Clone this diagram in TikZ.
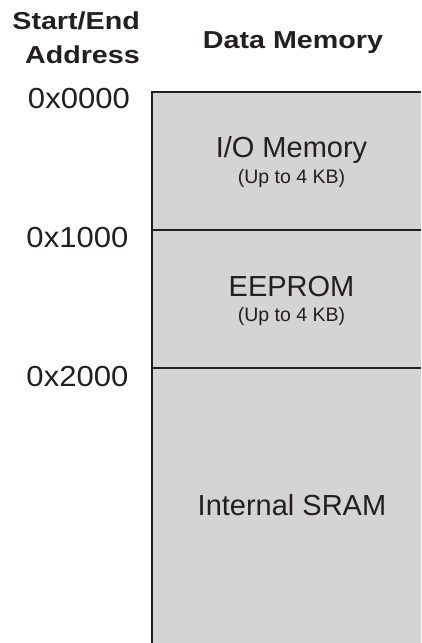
\documentclass[tikz,border=0pt]{standalone}
\usepackage{fontspec}
\setmainfont{Liberation Sans}
\definecolor{memfill}{RGB}{211,212,211}
\definecolor{ink}{RGB}{35,31,32}
\newcommand{\widebold}[1]{\scalebox{1.17}[1]{#1}}
\newcommand{\wideaddr}[1]{\scalebox{1.07}[1]{#1}}
\begin{document}
\begin{tikzpicture}[x=1pt,y=-1pt,
  big/.style={font=\fontsize{29}{29}\selectfont, text=ink, inner sep=0pt},
  small/.style={font=\fontsize{19.5}{19.5}\selectfont, text=ink, inner sep=0pt},
  head/.style={font=\fontsize{24.5}{24.5}\selectfont\bfseries, text=ink, inner sep=0pt},
  rule/.style={draw=ink, line width=2pt}]
\useasboundingbox (0,0) rectangle (421,643);
% memory block
\fill[memfill] (152,92) rectangle (421,643);
\draw[rule] (152,643) -- (152,92) -- (421,92);
\draw[rule] (152,230) -- (421,230);
\draw[rule] (152,368) -- (421,368);
% headers
\node[head, anchor=base east] (hstart) at (140,29) {\widebold{Start/End}};
\node[head, anchor=base east] (haddr) at (140,63.5) {\widebold{Address}};
\node[head, anchor=base] (hdata) at (293,48.8) {\widebold{Data Memory}};
% addresses
\node[big, anchor=base east] (a0) at (130,108.5) {\wideaddr{0x0000}};
\node[big, anchor=base east] (a1) at (128.5,247) {\wideaddr{0x1000}};
\node[big, anchor=base east] (a2) at (128.5,386) {\wideaddr{0x2000}};
% regions
\node[big, anchor=base] (io) at (291.5,157) {I/O Memory};
\node[small, anchor=base] (iosub) at (291.5,183.3) {(Up to 4 KB)};
\node[big, anchor=base] (ee) at (291.5,296) {EEPROM};
\node[small, anchor=base] (eesub) at (291.5,321.7) {(Up to 4 KB)};
\node[big, anchor=base] (sram) at (292,515) {Internal SRAM};
\end{tikzpicture}
\end{document}
